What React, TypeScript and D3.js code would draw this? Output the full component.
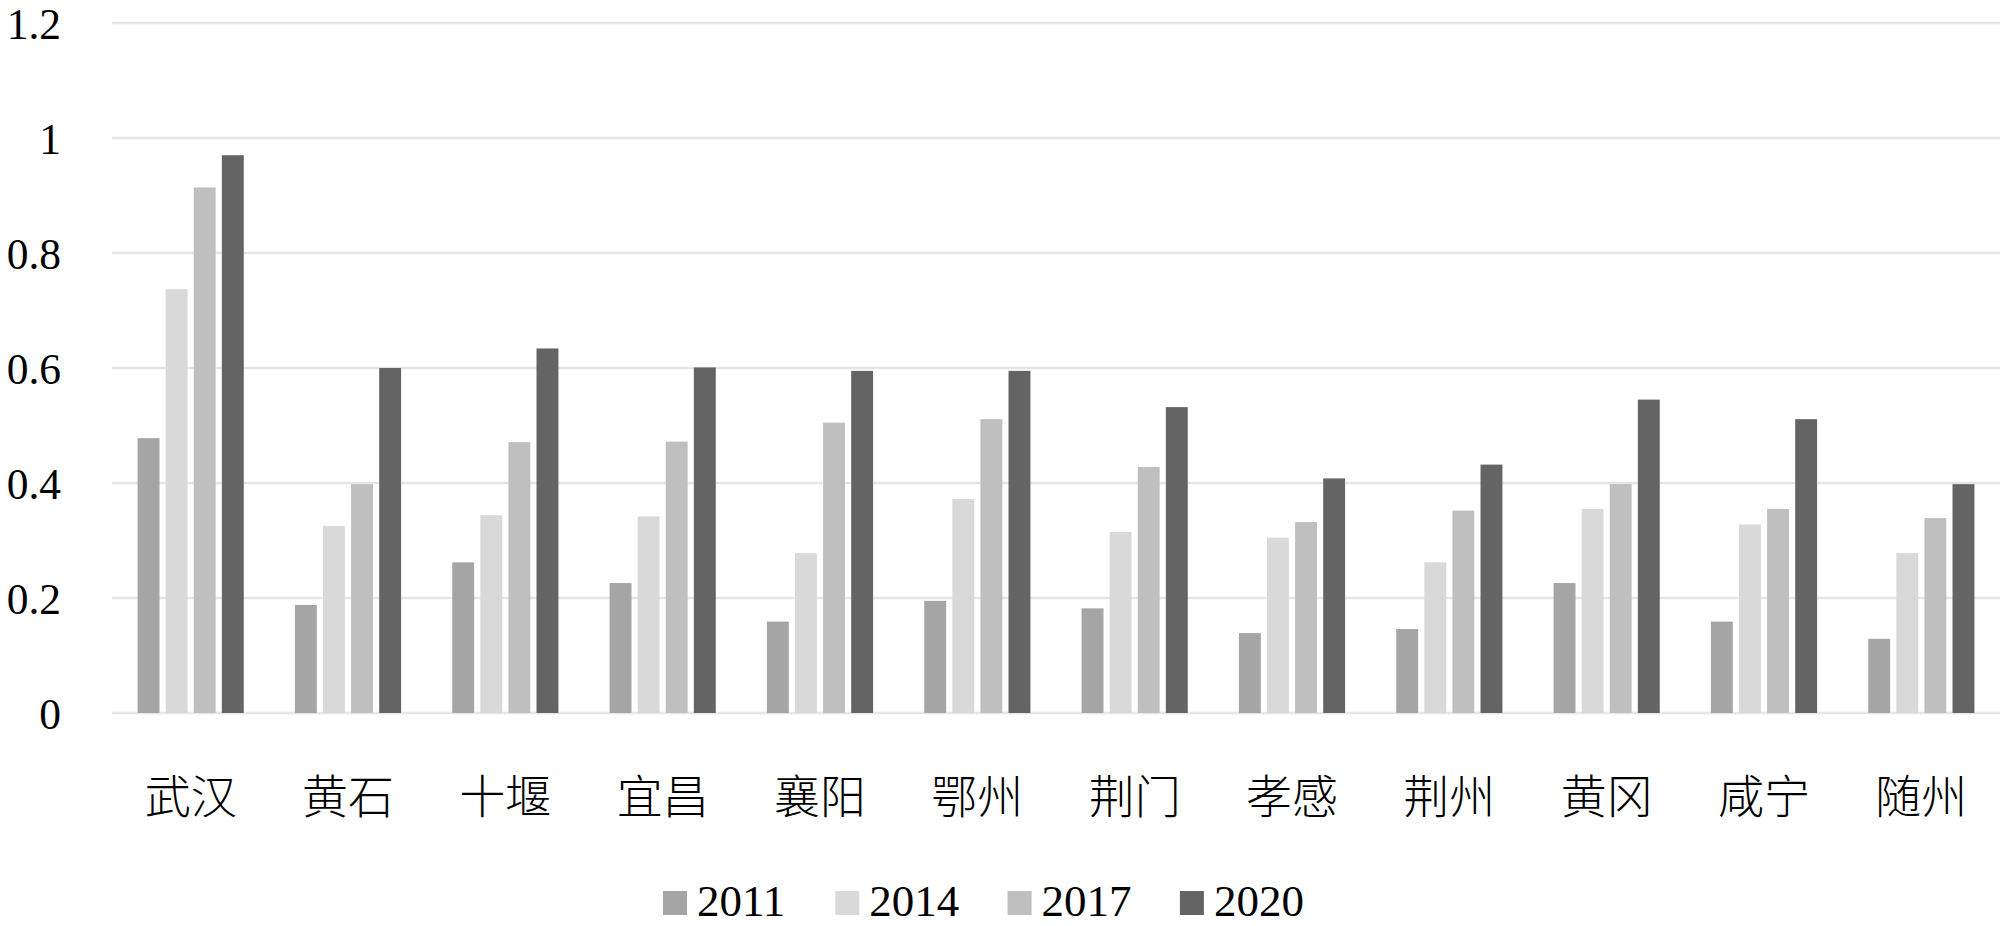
import React, { useEffect } from 'react';
import * as d3 from 'd3';

const categories = ['武汉', '黄石', '十堰', '宜昌', '襄阳', '鄂州', '荆门', '孝感', '荆州', '黄冈', '咸宁', '随州'];
const seriesNames = ['2011', '2014', '2017', '2020'];
const v2011 = [0.478, 0.188, 0.262, 0.226, 0.159, 0.195, 0.182, 0.139, 0.146, 0.226, 0.159, 0.129];
const v2014 = [0.737, 0.325, 0.344, 0.342, 0.278, 0.372, 0.315, 0.305, 0.262, 0.355, 0.328, 0.278];
const v2017 = [0.914, 0.398, 0.471, 0.472, 0.505, 0.511, 0.428, 0.332, 0.352, 0.398, 0.355, 0.339];
const v2020 = [0.970, 0.600, 0.634, 0.601, 0.595, 0.595, 0.532, 0.408, 0.432, 0.545, 0.511, 0.398];
const yTicks = [0, 0.2, 0.4, 0.6, 0.8, 1, 1.2];
const colors = ['#a5a5a5', '#d9d9d9', '#bfbfbf', '#646464'];

const seriesValues = [v2011, v2014, v2017, v2020];

const W = 2000;
const H = 926;
const plotLeft = 112;
const plotRight = 2000;
const plotTop = 23;
const plotBottom = 713;
const serif = '"Liberation Serif", "Times New Roman", serif';
const cjk = '"Noto Sans CJK SC", "Liberation Serif", serif';

export default function App() {
  useEffect(() => {
    document.body.style.margin = '0';
    document.body.style.overflow = 'hidden';
  }, []);

  const x0 = d3.scaleBand<string>().domain(categories).range([plotLeft, plotRight]).paddingInner(0.325).paddingOuter(0.1625);
  const x1 = d3.scaleBand<string>().domain(seriesNames).range([0, x0.bandwidth()]).paddingInner(0.22).paddingOuter(0);
  const y = d3.scaleLinear().domain([0, 1.2]).range([plotBottom, plotTop]);

  const fmt = (v: number) => (v === 0 ? '0' : String(+v.toFixed(1)));

  const legendStart = 663;
  const legendStep = 172.3;
  const legendY = 903;

  return (
    <svg width={W} height={H} style={{ display: 'block', background: '#fff' }}>
      {yTicks.map((t) => (
        <g key={t}>
          <line x1={plotLeft} x2={plotRight} y1={y(t)} y2={y(t)} stroke="#e6e6e6" strokeWidth={2.6} />
          <text
            x={61}
            y={y(t) + 16}
            textAnchor="end"
            fontFamily={serif}
            fontSize={43.5}
            fill="#000"
          >
            {fmt(t)}
          </text>
        </g>
      ))}
      {categories.map((c, ci) => (
        <g key={c} transform={`translate(${x0(c)},0)`}>
          {seriesNames.map((s, si) => {
            const v = seriesValues[si][ci];
            return (
              <rect
                key={s}
                x={x1(s)}
                y={y(v)}
                width={x1.bandwidth()}
                height={y(0) - y(v)}
                fill={colors[si]}
              />
            );
          })}
          <text
            x={x0.bandwidth() / 2}
            y={793}
            textAnchor="middle"
            dominantBaseline="central"
            fontFamily={cjk}
            fontSize={46}
            fontWeight={300}
            fill="#000"
          >
            {c}
          </text>
        </g>
      ))}
      {seriesNames.map((s, si) => {
        const lx = legendStart + si * legendStep;
        return (
          <g key={s}>
            <rect x={lx} y={legendY - 12} width={24} height={24} fill={colors[si]} />
            <text
              x={lx + 34}
              y={legendY + 13}
              fontFamily={serif}
              fontSize={45}
              fill="#000"
            >
              {s}
            </text>
          </g>
        );
      })}
    </svg>
  );
}
